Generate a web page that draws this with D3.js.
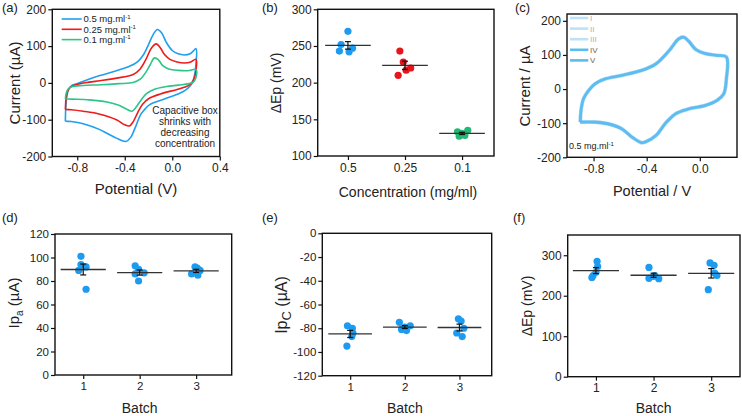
<!DOCTYPE html>
<html>
<head>
<meta charset="utf-8">
<script src="https://cdn.jsdelivr.net/npm/d3@7"></script>
<style>
body { margin: 0; background: #fff; }
svg { display: block; font-family: "Liberation Sans", Arial, sans-serif; }
</style>
</head>
<body>
<div id="chart"></div>
<script>
// ---------- data ----------
// (a) CV loops, [potential V, current uA], forward branch then reverse branch
var cvHigh = [[-0.90,-104],[-0.897,-70],[-0.89,-42],[-0.875,-20],[-0.85,-8],[-0.80,-2],[-0.72,8],[-0.61,20],[-0.47,33],[-0.36,45],[-0.29,58],[-0.24,78],[-0.20,104],[-0.16,132],[-0.125,145],[-0.09,136],[-0.05,110],[0.00,88],[0.05,79],[0.10,76],[0.15,79],[0.20,93],
  [0.20,55],[0.19,25],[0.165,-2],[0.13,-15],[0.09,-24],[-0.05,-42],[-0.19,-59],[-0.24,-75],[-0.27,-88],[-0.31,-120],[-0.35,-148],[-0.39,-159],[-0.43,-156],[-0.47,-150],[-0.55,-137],[-0.61,-127],[-0.75,-111],[-0.85,-105],[-0.90,-104]];
var cvMid = [[-0.90,-72],[-0.895,-45],[-0.885,-25],[-0.86,-12],[-0.80,-4],[-0.70,2],[-0.61,6],[-0.47,13],[-0.33,23],[-0.27,38],[-0.22,65],[-0.175,95],[-0.135,106],[-0.10,95],[-0.065,77],[-0.02,64],[0.04,57],[0.10,54],[0.15,56],[0.20,64],
  [0.20,35],[0.185,12],[0.15,-4],[0.10,-12],[0.04,-18],[-0.10,-30],[-0.20,-43],[-0.25,-58],[-0.29,-80],[-0.33,-106],[-0.36,-117],[-0.40,-114],[-0.47,-100],[-0.61,-85],[-0.75,-77],[-0.85,-73],[-0.90,-72]];
var cvLow = [[-0.90,-43],[-0.893,-28],[-0.875,-16],[-0.84,-10],[-0.75,-7],[-0.60,-5],[-0.45,-2],[-0.33,1],[-0.27,10],[-0.22,30],[-0.185,50],[-0.15,68],[-0.115,62],[-0.08,47],[-0.03,38],[0.05,34],[0.13,33],[0.20,36],
  [0.20,15],[0.18,3],[0.14,-2],[0.05,-6],[-0.05,-10],[-0.15,-17],[-0.22,-30],[-0.27,-50],[-0.31,-68],[-0.34,-77],[-0.38,-72],[-0.45,-61],[-0.55,-52],[-0.70,-46],[-0.85,-44],[-0.90,-43]];
var concLegend = ["0.5 mg.ml", "0.25 mg.ml", "0.1 mg.ml"];
var noteLines = ["Capacitive box", "shrinks with", "decreasing", "concentration"];

// (b) peak separation vs concentration (mV)
var concLabels = ["0.5", "0.25", "0.1"];
var dEpConc = [[270,252,247,243,242],[243,228,220,217,210],[135,133,131,128,127]];
var dEpConcJitter = [[0,-0.12,0.08,-0.15,0.02],[-0.09,-0.03,0.1,0.02,-0.12],[0.1,-0.08,0,0.05,-0.05]];

// (c) repeated cycles at 0.5 mg/ml
var cycleLabels = ["I", "II", "III", "IV", "V"];
var cycleCurve = [[-0.90,-97],[-0.893,-58],[-0.875,-28],[-0.837,-4],[-0.787,16],[-0.71,30],[-0.59,40],[-0.435,55],[-0.33,74],[-0.23,113],[-0.16,147],[-0.12,152],[-0.083,140],[-0.03,116],[0.04,104],[0.12,99],[0.20,94],
  [0.20,30],[0.18,-14],[0.13,-33],[0.04,-48],[-0.08,-58],[-0.18,-72],[-0.26,-101],[-0.33,-136],[-0.41,-155],[-0.44,-157],[-0.51,-141],[-0.59,-116],[-0.69,-102],[-0.79,-97],[-0.90,-97]];

// (d)-(f) batch reproducibility
var batchLabels = ["1", "2", "3"];
var ipaBatch = [[101,94,92,89,73],[93,90,87,86,80],[92,91,89,86,85]];
var ipaJitter = [[-0.04,-0.04,0.05,-0.08,0.05],[-0.08,-0.02,0.08,-0.08,-0.02],[-0.02,0.02,0.07,-0.08,0.03]];
var ipcBatch = [[-78,-80,-84,-87,-95],[-75,-78,-79,-81,-82],[-72,-74,-80,-84,-87]];
var ipcJitter = [[-0.05,0.04,0.05,0.03,-0.06],[-0.1,0.1,0,-0.06,0.03],[-0.02,0.03,0.08,-0.05,0.05]];
var dEpBatch = [[285,272,258,250,245],[270,250,248,243,242],[281,275,256,250,215]];
var dEpBatchJitter = [[0.02,0.03,0,-0.05,-0.07],[-0.08,0.02,0,-0.08,0.09],[-0.02,0.05,0.06,0.1,-0.05]];

// ---------- drawing ----------
var blue = "#1f9ff0", red = "#ee1b1b", green = "#2cc58a";
var dotBlue = "#1d9bf0", dotRed = "#e8141c", dotGreen = "#22b875";

var svg = d3.select("#chart").append("svg").attr("width", 742).attr("height", 416);

function fmtNum(f) {
  return function(d) { return d3.format(f)(d).replace("\u2212", "-"); };
}

function panel(box, xDom, yDom) {
  var p = {box: box};
  p.x = d3.scaleLinear().domain(xDom).range([box.l, box.r]);
  p.y = d3.scaleLinear().domain(yDom).range([box.b, box.t]);
  p.g = svg.append("g");
  return p;
}

function axes(p, xTicks, yTicks, xFmt, yFmt, fs) {
  var b = p.box;
  var ya = p.g.append("g").attr("transform", "translate(" + b.l + ",0)")
    .call(d3.axisLeft(p.y).tickValues(yTicks).tickSize(4).tickPadding(2).tickFormat(yFmt));
  var xa = p.g.append("g").attr("transform", "translate(0," + b.b + ")")
    .call(d3.axisBottom(p.x).tickValues(xTicks).tickSize(4).tickPadding(3).tickFormat(xFmt));
  [ya, xa].forEach(function(a) {
    a.select(".domain").remove();
    a.selectAll("line").attr("stroke", "#111").attr("stroke-width", 1.2);
    a.selectAll("text").attr("fill", "#222").style("font-size", fs + "px")
      .style("font-family", "Liberation Sans, Arial, sans-serif");
  });
  p.g.append("rect").attr("x", b.l).attr("y", b.t).attr("width", b.r - b.l).attr("height", b.b - b.t)
    .attr("fill", "none").attr("stroke", "#111").attr("stroke-width", 1.4);
}

function letter(txt, x, y) {
  svg.append("text").attr("x", x).attr("y", y).attr("font-size", 13).attr("fill", "#222").text(txt);
}

function xTitle(x, y, size) {
  return svg.append("text").attr("x", x).attr("y", y).attr("text-anchor", "middle")
    .attr("font-size", size).attr("fill", "#222");
}
function yTitle(x, y, size) {
  return svg.append("text").attr("transform", "translate(" + x + "," + y + ") rotate(-90)")
    .attr("text-anchor", "middle").attr("font-size", size).attr("fill", "#222");
}

var cvLine = function(p) {
  return d3.line().x(function(d) { return p.x(d[0]); }).y(function(d) { return p.y(d[1]); })
    .curve(d3.curveCatmullRom.alpha(0.5));
};

// ---- (a) ----
var pa = panel({l: 52.3, r: 219.8, t: 9.3, b: 156.5}, [-1.01, 0.4], [-200, 200]);
axes(pa, [-0.8, -0.4, 0.0, 0.4], [-200, -100, 0, 100, 200], fmtNum(".1f"), fmtNum("d"), 12);
[[cvHigh, blue], [cvMid, red], [cvLow, green]].forEach(function(c) {
  pa.g.append("path").datum(c[0]).attr("d", cvLine(pa)).attr("fill", "none")
    .attr("stroke", c[1]).attr("stroke-width", 1.6);
});
[blue, red, green].forEach(function(col, i) {
  var yy = 19 + i * 10.3;
  pa.g.append("line").attr("x1", 61.7).attr("x2", 81.7).attr("y1", yy).attr("y2", yy)
    .attr("stroke", col).attr("stroke-width", 1.6);
  var t = pa.g.append("text").attr("x", 83.5).attr("y", yy + 3.3).attr("font-size", 9.5).attr("fill", "#222");
  t.append("tspan").text(concLegend[i]);
  t.append("tspan").attr("dy", -3.5).attr("font-size", 6).text("-1");
});
noteLines.forEach(function(s, i) {
  pa.g.append("text").attr("x", 185).attr("y", 114 + i * 11).attr("text-anchor", "middle")
    .attr("font-size", 10).attr("fill", "#222").text(s);
});
letter("(a)", 2, 12);
yTitle(20, 83, 15).text("Current (\u00b5A)");
xTitle(136, 194, 15).text("Potential (V)");

// ---- scatter helper for (b), (d)-(f) ----
function scatter(p, groups, jit, cols) {
  groups.forEach(function(vals, i) {
    var c = i + 1;
    var col = Array.isArray(cols) ? cols[i] : cols;
    var m = d3.mean(vals), se = d3.deviation(vals) / Math.sqrt(vals.length);
    p.g.selectAll(null).data(vals).enter().append("circle")
      .attr("cx", function(d, k) { return p.x(c + jit[i][k]); })
      .attr("cy", function(d) { return p.y(d); })
      .attr("r", 3.6).attr("fill", col);
    p.g.append("line").attr("x1", p.x(c - 0.4)).attr("x2", p.x(c + 0.4))
      .attr("y1", p.y(m)).attr("y2", p.y(m)).attr("stroke", "#333").attr("stroke-width", 1.3);
    var ex = p.x(c);
    p.g.append("line").attr("x1", ex).attr("x2", ex).attr("y1", p.y(m - se)).attr("y2", p.y(m + se))
      .attr("stroke", "#111").attr("stroke-width", 1.2);
    [m - se, m + se].forEach(function(v) {
      p.g.append("line").attr("x1", ex - 3).attr("x2", ex + 3).attr("y1", p.y(v)).attr("y2", p.y(v))
        .attr("stroke", "#111").attr("stroke-width", 1.2);
    });
  });
}
var catFmt = function(labels) { return function(d) { return labels[d - 1]; }; };

// ---- (b) ----
var pb = panel({l: 317.7, r: 494, t: 9.3, b: 156}, [0.47, 3.56], [100, 300]);
axes(pb, [1, 2, 3], [100, 150, 200, 250, 300], catFmt(concLabels), fmtNum("d"), 12);
scatter(pb, dEpConc, dEpConcJitter, [dotBlue, dotRed, dotGreen]);
letter("(b)", 262, 12);
yTitle(281, 83, 14).text("\u0394Ep (mV)");
xTitle(408, 197, 14).text("Concentration (mg/ml)");

// ---- (c) ----
var pc = panel({l: 567, r: 737, t: 14, b: 157.3}, [-1.0, 0.28], [-200, 220]);
axes(pc, [-0.8, -0.4, 0.0], [-200, -100, 0, 100, 200], fmtNum(".1f"), fmtNum("d"), 12);
cycleLabels.forEach(function(lab, i) {
  var early = i < 3;
  pc.g.append("path").datum(cycleCurve).attr("d", cvLine(pc)).attr("fill", "none")
    .attr("stroke", early ? "#bfe1f7" : "#5bbcf0").attr("stroke-width", early ? 3.6 : 2.6)
    .attr("stroke-opacity", early ? 0.9 : 0.85);
  var yy = 18 + i * 10.6;
  pc.g.append("line").attr("x1", 570).attr("x2", 588.3).attr("y1", yy).attr("y2", yy)
    .attr("stroke", early ? "#bfe1f7" : "#5bbcf0").attr("stroke-width", 2.6);
  pc.g.append("text").attr("x", 590).attr("y", yy + 3).attr("font-size", 8)
    .attr("fill", early ? "#b0b0b0" : "#666").text(lab);
});
var tc = pc.g.append("text").attr("x", 569).attr("y", 149).attr("font-size", 9).attr("fill", "#222");
tc.append("tspan").text(concLegend[0]);
tc.append("tspan").attr("dy", -3.5).attr("font-size", 6).text("-1");
letter("(c)", 515, 12);
yTitle(530, 86, 15).text("Current / \u00b5A");
xTitle(652, 196, 14.5).text("Potential / V");

// ---- (d) ----
var pd = panel({l: 55, r: 231.7, t: 234, b: 375}, [0.5, 3.63], [0, 120]);
axes(pd, [1, 2, 3], [0, 20, 40, 60, 80, 100, 120], catFmt(batchLabels), fmtNum("d"), 11.5);
scatter(pd, ipaBatch, ipaJitter, dotBlue);
letter("(d)", 2, 222);
var td = yTitle(19, 303, 15);
td.append("tspan").text("Ip");
td.append("tspan").attr("dy", 4).attr("font-size", 10).text("a");
td.append("tspan").attr("dy", -4).text(" (\u00b5A)");
xTitle(pd.x(2), 413, 14).text("Batch");

// ---- (e) ----
var pe = panel({l: 322.3, r: 491.7, t: 233.3, b: 375.7}, [0.49, 3.59], [-120, 0]);
axes(pe, [1, 2, 3], [-120, -100, -80, -60, -40, -20, 0], catFmt(batchLabels), fmtNum("d"), 11.5);
scatter(pe, ipcBatch, ipcJitter, dotBlue);
letter("(e)", 262, 222);
var te = yTitle(287, 305, 16);
te.append("tspan").text("Ip");
te.append("tspan").attr("dy", 4).attr("font-size", 13).text("C");
te.append("tspan").attr("dy", -4).text(" (\u00b5A)");
xTitle(pe.x(2), 413, 14).text("Batch");

// ---- (f) ----
var pf = panel({l: 567.7, r: 740, t: 235, b: 376.7}, [0.51, 3.5], [0, 350]);
axes(pf, [1, 2, 3], [0, 100, 200, 300], catFmt(batchLabels), fmtNum("d"), 12);
scatter(pf, dEpBatch, dEpBatchJitter, dotBlue);
letter("(f)", 513, 222);
yTitle(532, 306, 14).text("\u0394Ep (mV)");
xTitle(pf.x(2), 413, 14).text("Batch");
</script>
</body>
</html>
